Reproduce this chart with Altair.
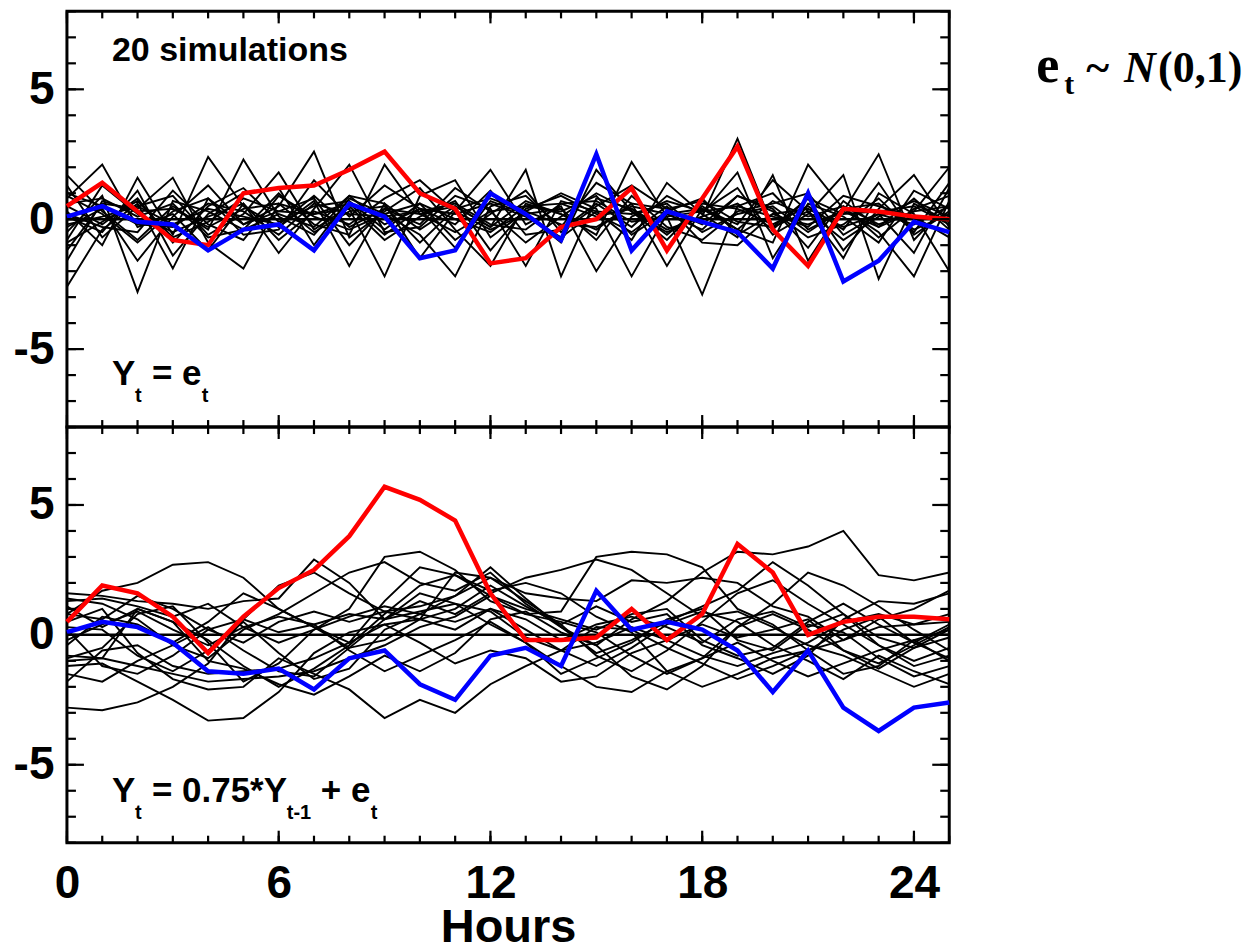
import altair as alt
import pandas as pd

HOURS = list(range(26))

TOP_RED = [0.5, 1.4, 0.3, -0.8, -1.0, 1.0, 1.2, 1.3, 1.9, 2.6, 1.0, 0.4, -1.7, -1.5, -0.3, 0.0, 1.2, -1.2, 0.8, 2.8, -0.4, -1.8, 0.4, 0.3, 0.1, 0.0]
TOP_BLUE = [0.1, 0.5, -0.1, -0.2, -1.2, -0.4, -0.2, -1.2, 0.6, 0.1, -1.5, -1.2, 1.0, 0.2, -0.8, 2.5, -1.2, 0.3, -0.1, -0.5, -1.9, 1.0, -2.4, -1.6, -0.1, -0.5]

TOP_BLACK = [
    [1.7, 0.3, -0.8, 0.5, -0.4, 2.3, 0.1, -0.6, 0.9, -0.2, 0.4, -1.1, 0.7, 0.2, -0.9, 1.9, 0.3, -0.5, 0.1, 3.1, -0.3, 0.8, -1.2, 0.4, 1.7, -0.3],
    [-2.6, -0.4, 0.6, -1.9, 0.8, -0.2, 0.5, 2.6, -0.7, 0.3, 1.2, -0.4, -1.8, 0.6, 0.2, -0.6, 2.2, 0.1, -2.9, 0.5, 1.0, -0.4, 0.3, 2.5, -0.8, 0.6],
    [0.8, 2.1, -0.3, 0.2, -1.2, 0.6, -1.3, 0.4, 2.1, -0.5, -0.3, 0.9, 0.4, -1.8, 0.7, 0.3, -0.8, 1.4, 0.2, -0.7, 1.7, -1.6, 0.5, -0.2, 0.3, 2.0],
    [-0.5, 0.9, -2.8, 0.7, 0.3, -0.4, 1.0, -0.2, -0.6, 2.1, 0.2, 0.5, -0.3, 1.9, -2.2, 0.8, 0.4, -0.6, 0.5, -0.4, -0.9, 2.1, 0.4, -0.5, -2.2, 0.7],
    [0.3, -1.0, 1.6, -0.6, 2.4, 0.5, -0.3, 0.7, -1.8, 0.6, -1.5, 0.3, 1.9, -0.2, 0.5, -2.0, 0.1, 0.7, 0.3, 1.2, -0.6, 0.2, 1.7, -2.3, 0.6, -0.1],
    [-1.2, 0.6, 0.4, 1.6, -0.9, -1.9, 0.6, 0.2, 0.4, -2.2, 0.9, 1.5, -0.7, 0.3, 1.0, 0.4, -2.2, 0.2, -0.4, 0.9, 0.3, -0.7, -0.2, 0.8, -0.5, 1.4],
    [0.1, -0.5, 1.1, -1.4, 0.2, 1.0, 1.2, -1.0, 0.8, 0.2, -0.6, -2.2, 0.5, 0.9, -0.3, 1.4, 0.6, -1.8, 0.4, -0.2, 1.5, 0.3, -1.5, 1.0, 0.2, -2.0],
    [0.9, 0.2, -0.9, 0.3, 0.8, -0.6, -0.4, 1.5, 0.1, 1.3, 0.4, -0.2, 1.1, -0.6, -0.4, 0.6, -0.3, 0.9, 0.2, 1.8, -1.5, 0.6, 0.1, -0.9, 1.1, 0.4],
    [-0.8, 1.3, 0.2, -0.5, 0.1, 0.6, -0.8, 0.3, -0.2, 0.8, 1.5, 0.3, -0.4, 0.2, 0.4, -0.8, 0.9, -0.3, -0.8, 0.3, 0.6, 1.0, -0.6, 0.2, -1.3, 1.2],
    [1.3, -0.7, 0.5, 0.9, -0.6, 0.2, 1.8, -0.4, 0.5, -0.8, 0.1, 0.7, -1.2, 0.4, 0.9, 0.2, -0.5, 0.5, -0.9, -1.0, 0.2, -0.3, 0.9, 0.5, 0.1, -0.7],
    [-0.3, 0.4, -1.6, 0.1, 1.3, -0.2, 0.3, 0.8, -1.0, 0.4, -0.2, 1.2, 0.3, -0.9, 0.1, 1.0, 0.3, -0.8, 0.6, 0.4, -0.2, 0.5, -0.4, 1.4, -0.6, 0.3],
    [0.5, -0.2, 0.8, -0.9, 0.5, 1.2, -0.1, 0.5, 0.7, -0.4, 0.6, -0.8, 0.2, 1.1, -0.5, 0.5, 1.3, 0.4, -0.2, 0.9, 0.4, -1.1, 0.7, -0.3, 0.8, -0.4],
    [-1.6, 0.7, 0.3, 0.4, -0.3, 0.4, 0.6, -0.5, 0.3, 0.5, -0.9, 0.4, 0.8, 0.3, -0.2, -0.3, 0.5, 0.2, 0.4, -0.4, 0.7, 0.1, 0.5, -0.7, 0.4, 0.9],
    [0.2, -0.3, -0.5, 1.1, -0.2, -0.8, 0.9, 0.1, -0.4, 0.2, 0.6, 0.0, -0.5, 0.5, 0.3, 0.9, -0.6, 0.3, 0.8, -0.6, 0.2, 0.4, -0.3, 0.2, -0.2, 0.5],
    [1.0, 0.5, -0.2, -0.3, 0.6, 0.3, -0.6, 0.6, 0.2, 0.1, 0.3, 0.6, -0.2, -0.4, 0.6, 0.1, 0.4, -0.4, 0.1, 0.6, -0.4, 0.8, 0.2, 0.3, 0.5, -0.2],
    [-0.9, -0.1, 0.7, -0.7, -0.1, 0.8, 0.3, 0.2, 0.6, -0.6, 0.4, 0.2, 0.6, 0.1, -0.7, 0.3, 0.2, 0.6, -0.5, 0.2, 0.5, -0.5, 0.4, 0.6, -0.4, 0.2],
    [0.6, 0.8, 0.1, 0.6, -0.7, -0.4, 0.2, -0.3, 0.9, 0.6, -0.4, 0.5, -0.3, 0.7, 0.2, -0.4, 0.6, 0.4, 0.7, -0.1, -0.3, 0.3, -0.8, 0.1, 0.7, 0.1],
    [-0.2, 0.1, 0.5, -0.2, 0.4, 0.1, -0.2, 0.9, -0.3, 0.4, 0.2, -0.5, 0.3, 0.5, 0.6, 0.7, -0.1, 0.1, 0.3, 0.5, 0.1, -0.2, 0.3, -0.3, 0.3, 0.5],
]

BOT_RED = [0.5, 1.9, 1.6, 0.7, -0.7, 0.7, 1.8, 2.5, 3.8, 5.7, 5.2, 4.4, 1.6, -0.2, -0.2, -0.1, 1.0, -0.2, 0.8, 3.5, 2.4, 0.0, 0.5, 0.7, 0.7, 0.6]
BOT_BLUE = [0.1, 0.5, 0.3, -0.3, -1.4, -1.5, -1.3, -2.1, -0.9, -0.6, -1.9, -2.5, -0.8, -0.5, -1.2, 1.7, 0.2, 0.5, 0.2, -0.6, -2.2, -0.6, -2.8, -3.7, -2.8, -2.6]

BOT_BLACK = [
    [1.4, 1.2, 0.6, -0.4, -0.9, 0.2, 0.8, 1.6, 2.4, 2.8, 2.0, 1.7, 2.4, 1.2, 0.3, -0.4, 0.6, 1.3, 2.4, 3.2, 3.1, 3.4, 4.0, 2.3, 2.1, 2.4],
    [-2.8, -2.9, -2.6, -2.0, -1.1, 0.6, 1.9, 2.4, 1.6, 0.9, 1.1, 1.5, 2.6, 1.4, 0.3, -0.7, -0.2, 0.5, 1.1, 1.7, 2.8, 1.9, 0.8, -0.1, -0.5, 0.2],
    [0.8, 1.7, 2.0, 2.7, 2.8, 2.2, 1.0, 0.3, -0.3, 1.3, 2.6, 2.3, 1.5, 0.8, 0.9, 3.0, 3.2, 3.1, 2.6, 1.0, 0.4, -0.6, -0.2, 0.6, 1.0, 1.7],
    [-0.9, -0.5, 0.8, 1.1, -0.3, -1.8, -1.1, 0.2, 1.0, 3.0, 3.2, 2.5, 1.3, 0.8, 0.5, 0.1, -0.8, -1.5, -0.9, 0.3, 1.2, 2.4, 1.9, 1.1, 0.2, -0.6],
    [1.6, 1.5, 1.3, 1.2, 1.0, 1.3, 1.4, 2.9, 2.0, 0.6, 1.3, 0.8, 1.6, 2.2, 2.5, 2.9, 2.5, 1.6, 0.7, 0.9, 0.3, -0.4, -0.8, -1.4, -2.0, -1.5],
    [-1.2, -1.1, -1.8, -2.5, -3.3, -3.2, -2.2, -0.7, 0.1, 0.4, 0.6, 1.0, 1.9, 1.1, 0.4, -0.8, -1.4, -0.6, 0.5, 1.6, 2.1, 1.2, 0.4, -0.4, -1.2, -0.8],
    [0.5, 1.0, -0.7, -1.7, -2.1, -2.0, -0.9, -1.5, -2.1, -3.2, -2.5, -3.0, -1.9, -1.2, -0.6, 0.3, 0.2, -0.5, -1.1, -1.7, -1.2, -0.6, 0.2, 0.7, -0.3, -0.9],
    [-0.4, 0.7, 0.4, -0.3, 0.5, 1.6, 1.0, 0.3, -0.5, -0.2, 0.6, 2.4, 2.2, 1.3, 0.4, 1.1, 0.5, 0.8, -0.4, -0.9, -1.5, -0.8, 0.6, 1.3, 1.2, 1.6],
    [-1.5, -1.8, -1.0, -0.4, 0.3, -0.6, -1.4, -1.6, -0.5, 0.6, 0.9, 1.2, 0.4, -0.3, -1.2, -2.0, -2.2, -1.4, -0.9, -0.3, -1.0, -1.6, -1.1, -0.6, -0.2, -1.0],
    [0.3, 0.2, -0.8, -1.4, -0.6, 0.5, -0.7, -1.7, -1.3, 0.2, 0.8, 0.5, 1.0, 0.2, -0.6, -1.2, -0.5, 0.4, 0.9, 0.5, -0.4, -1.0, -1.7, -0.8, -1.4, -1.9],
    [1.1, 0.3, 1.0, 0.5, -1.0, -1.3, -1.9, -2.3, -1.6, -0.8, -1.4, -0.7, 0.6, 0.9, 0.1, -0.4, -1.6, -2.1, -1.2, 0.3, 0.8, 0.2, -0.6, -1.3, -0.5, -0.1],
    [-0.8, -0.9, -1.2, -1.5, -1.8, -1.7, -1.6, -1.4, -0.9, -0.4, 0.3, 0.7, 1.5, 1.0, 0.6, 0.2, 0.8, 1.0, -0.2, -0.8, -0.5, 0.5, 1.2, 0.4, -0.3, 0.4],
    [0.2, -1.2, -1.5, -0.8, 0.2, 0.6, 0.1, 0.4, 0.8, 0.6, 1.6, 1.2, 0.9, -0.1, -0.6, -0.3, 0.3, -0.2, -0.8, -1.2, -0.7, -0.3, 0.5, 0.8, 0.4, 0.8],
    [-1.0, -0.9, 1.0, 0.5, -0.2, -1.2, -2.0, -1.3, -0.4, 0.8, 1.9, 2.3, 1.7, 2.0, 1.6, 0.7, 0.1, -1.4, -2.0, -1.5, -0.9, -0.6, -1.5, -1.2, -0.2, 0.2],
    [0.8, 0.6, 1.5, 1.0, 0.2, -0.3, 0.5, 0.9, 0.5, 0.9, 0.6, 0.2, 1.0, 0.6, -0.2, 0.4, 0.7, 0.3, -0.3, 0.6, 0.9, 0.3, 0.8, -0.4, -1.0, -0.5],
    [-0.2, 0.4, 0.9, 0.2, -0.4, 0.3, 0.7, 0.4, -0.6, -1.4, -0.8, -0.2, 0.5, -0.3, -1.5, -0.9, -0.3, 0.6, 1.0, -0.2, -0.6, 0.4, 0.1, -0.9, -1.6, -1.2],
    [1.3, 1.4, 1.1, 0.7, 1.2, 0.3, -0.3, 0.2, 0.7, 1.1, 0.8, 1.5, 2.2, 1.6, 1.4, 1.3, 2.1, 2.0, 2.2, 2.0, 1.1, 0.7, -0.2, 0.3, 0.4, 0.5],
    [-1.8, -0.6, -0.4, -1.2, -1.5, -1.4, -1.3, -0.9, -0.3, 0.4, -0.3, -1.1, -0.6, -0.9, -1.8, -1.6, -0.7, -0.2, 0.4, -0.1, 0.2, 0.6, -0.6, -1.1, -0.4, 0.3],
]

X_TICKS_MINOR = list(range(0, 26))
X_TICKS_MAJOR = [0, 6, 12, 18, 24]
Y_TICKS_MINOR = list(range(-8, 9))
Y_TICKS_MAJOR = [-5, 0, 5]
X_LABELS = [0, 6, 12, 18, 24]
Y_LABELS = [-5, 0, 5]
ZERO_LEVEL = [0]

W, H = 883, 416
SANS = "Liberation Sans"
SERIF = "Liberation Serif"

XS = alt.Scale(domain=[0, 25], nice=False, zero=False)
YS = alt.Scale(domain=[-8, 8], nice=False, zero=False)

Y_AXIS = alt.Axis(values=Y_LABELS, labelFontSize=46, labelFontWeight="bold",
                  labelPadding=13, ticks=False, domain=False, grid=False,
                  labelColor="black", title=None, minExtent=60, maxExtent=60,
                  labelExpr="toString(datum.value)")
X_AXIS = alt.Axis(values=X_LABELS, labelFontSize=46, labelFontWeight="bold",
                  labelPadding=19, ticks=False, domain=False, grid=False,
                  labelFlush=False, labelOverlap=False, labelColor="black",
                  title="Hours", titleFontSize=47, titleFontWeight="bold",
                  titlePadding=-2, titleColor="black")


def text_layer(txt, x, y, size, font=SANS, style="normal"):
    return alt.Chart(pd.DataFrame({"t": [txt]})).mark_text(
        align="left", baseline="alphabetic", fontSize=size, fontWeight="bold",
        font=font, fontStyle=style, color="black"
    ).encode(text="t:N", x=alt.value(x), y=alt.value(y))


def panel(red, blue, black, bottom, texts):
    xaxis = X_AXIS if bottom else None
    xenc = alt.X("hour:Q", scale=XS, axis=xaxis)
    yenc = alt.Y("value:Q", scale=YS, axis=Y_AXIS)

    black_df = pd.DataFrame(
        [{"hour": h, "value": v, "sim": i} for i, s in enumerate(black) for h, v in zip(HOURS, s)]
    )
    red_df = pd.DataFrame({"hour": HOURS, "value": red})
    blue_df = pd.DataFrame({"hour": HOURS, "value": blue})

    blk = alt.Chart(black_df).mark_line(color="black", strokeWidth=1.9).encode(
        x=xenc, y=yenc, detail="sim:N")
    zero = alt.Chart(pd.DataFrame({"value": ZERO_LEVEL})).mark_rule(
        color="black", strokeWidth=2.5).encode(y=yenc)
    rd = alt.Chart(red_df).mark_line(color="#ff0000", strokeWidth=4.5).encode(x=xenc, y=yenc)
    bl = alt.Chart(blue_df).mark_line(color="#0000ff", strokeWidth=4.5).encode(x=xenc, y=yenc)

    ticks = []
    rule = dict(color="black", strokeWidth=2.2)
    xmin = alt.Chart(pd.DataFrame({"hour": X_TICKS_MINOR}))
    xmaj = alt.Chart(pd.DataFrame({"hour": X_TICKS_MAJOR}))
    ymin = alt.Chart(pd.DataFrame({"value": Y_TICKS_MINOR}))
    ymaj = alt.Chart(pd.DataFrame({"value": Y_TICKS_MAJOR}))
    for base, ln in ((xmin, 7), (xmaj, 12)):
        ticks.append(base.mark_rule(**rule).encode(x=xenc, y=alt.value(H), y2=alt.value(H - ln)))
        ticks.append(base.mark_rule(**rule).encode(x=xenc, y=alt.value(0), y2=alt.value(ln)))
    for base, ln in ((ymin, 9), (ymaj, 17)):
        ticks.append(base.mark_rule(**rule).encode(y=yenc, x=alt.value(0), x2=alt.value(ln)))
        ticks.append(base.mark_rule(**rule).encode(y=yenc, x=alt.value(W), x2=alt.value(W - ln)))

    layers = [blk, zero, rd, bl] + ticks + texts
    return alt.layer(*layers).properties(width=W, height=H)


top_texts = [
    text_layer("20 simulations", 45, 50, 34),
    text_layer("Y", 45, 374, 35),
    text_layer("t", 68, 391, 20),
    text_layer("= e", 85, 374, 35),
    text_layer("t", 135, 391, 20),
    text_layer("e", 970, 71, 52, font=SERIF),
    text_layer("t", 998, 83, 30, font=SERIF),
    text_layer("~", 1020, 71, 44, font=SERIF),
    text_layer("N", 1058, 71, 44, font=SERIF, style="italic"),
    text_layer("(0,1)", 1092, 71, 44, font=SERIF),
]
bottom_texts = [
    text_layer("Y", 45, 375, 35),
    text_layer("t", 68, 392, 20),
    text_layer("= 0.75*Y", 85, 375, 35),
    text_layer("t-1", 220, 392, 20),
    text_layer("+ e", 254, 375, 35),
    text_layer("t", 304, 392, 20),
]

top = panel(TOP_RED, TOP_BLUE, TOP_BLACK, False, top_texts)
bot = panel(BOT_RED, BOT_BLUE, BOT_BLACK, True, bottom_texts)

chart = alt.vconcat(top, bot, spacing=0, bounds="flush").properties(
    padding={"left": 5, "top": 8, "right": 5, "bottom": 0}
).configure(font=SANS).configure_view(stroke="black", strokeWidth=3)

chart.save("out.html", embed_options={"renderer": "svg", "actions": False})
